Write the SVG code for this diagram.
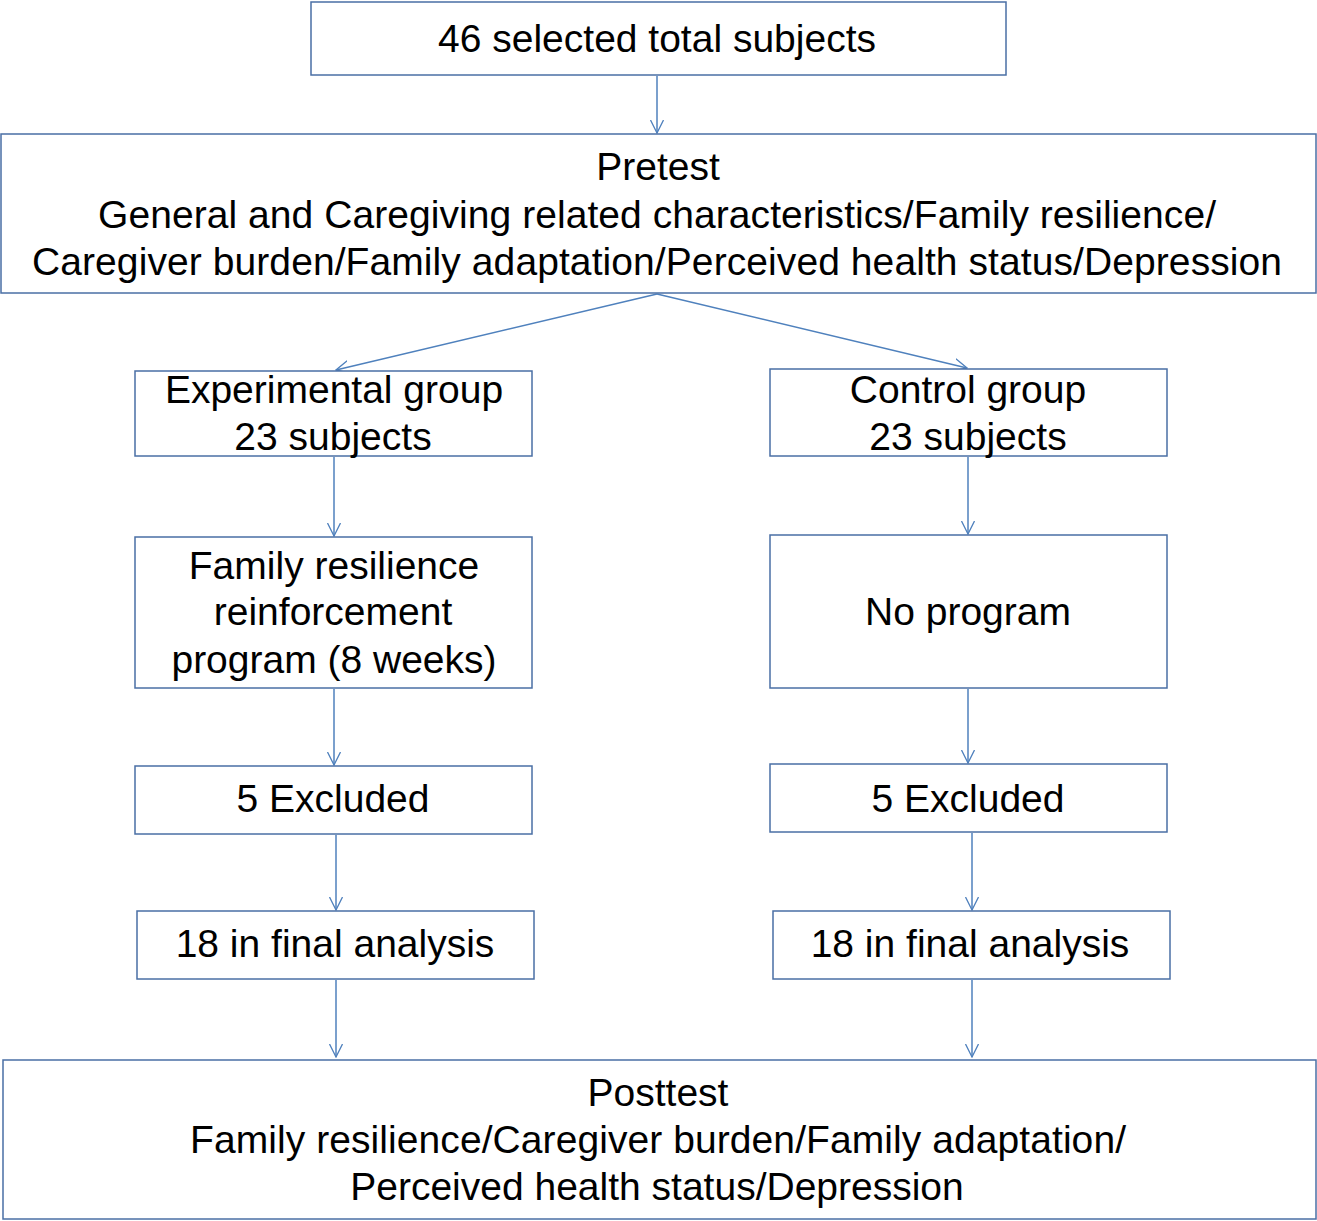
<svg xmlns="http://www.w3.org/2000/svg" width="1317" height="1221" viewBox="0 0 1317 1221">
<style>
  .box { fill: #ffffff; stroke: #4a6fa5; stroke-width: 1.5; }
  .t { font-family: "Liberation Sans", Arial, sans-serif; font-size: 39px; fill: #000000; text-anchor: middle; }
  .c { stroke: #4f81bd; stroke-width: 1.5; fill: none; }
</style>
<defs>
  <marker id="arr" viewBox="0 0 14 14" refX="13" refY="7" markerWidth="14" markerHeight="14" markerUnits="userSpaceOnUse" orient="auto">
    <path d="M0,0.5 L13,7 L0,13.5" fill="none" stroke="#4f81bd" stroke-width="1.3"/>
  </marker>
</defs>
<rect width="1317" height="1221" fill="#ffffff"/>

<g id="connectors">
  <line class="c" x1="657" y1="76" x2="657" y2="133" marker-end="url(#arr)"/>
  <line class="c" x1="657" y1="294" x2="336" y2="370" marker-end="url(#arr)"/>
  <line class="c" x1="657" y1="294" x2="967" y2="368" marker-end="url(#arr)"/>
  <line class="c" x1="334" y1="457" x2="334" y2="536" marker-end="url(#arr)"/>
  <line class="c" x1="968" y1="457" x2="968" y2="534" marker-end="url(#arr)"/>
  <line class="c" x1="334" y1="689" x2="334" y2="765" marker-end="url(#arr)"/>
  <line class="c" x1="968" y1="689" x2="968" y2="763" marker-end="url(#arr)"/>
  <line class="c" x1="336" y1="835" x2="336" y2="910" marker-end="url(#arr)"/>
  <line class="c" x1="972" y1="833" x2="972" y2="910" marker-end="url(#arr)"/>
  <line class="c" x1="336" y1="980" x2="336" y2="1057" marker-end="url(#arr)"/>
  <line class="c" x1="972" y1="980" x2="972" y2="1057" marker-end="url(#arr)"/>
</g>

<g id="n-total">
  <rect class="box" x="311" y="2" width="695" height="73"/>
  <text class="t" x="657" y="52">46 selected total subjects</text>
</g>

<g id="n-pretest">
  <rect class="box" x="1" y="134" width="1315" height="159"/>
  <text class="t" x="658" y="180">Pretest</text>
  <text class="t" x="657" y="228" textLength="1118" lengthAdjust="spacing">General and Caregiving related characteristics/Family resilience/</text>
  <text class="t" x="657" y="275" textLength="1250" lengthAdjust="spacing">Caregiver burden/Family adaptation/Perceived health status/Depression</text>
</g>

<g id="n-exp">
  <rect class="box" x="135" y="371" width="397" height="85"/>
  <text class="t" x="334" y="403">Experimental group</text>
  <text class="t" x="333" y="450">23 subjects</text>
</g>

<g id="n-ctrl">
  <rect class="box" x="770" y="369" width="397" height="87"/>
  <text class="t" x="968" y="403">Control group</text>
  <text class="t" x="968" y="450">23 subjects</text>
</g>

<g id="n-program">
  <rect class="box" x="135" y="537" width="397" height="151"/>
  <text class="t" x="334" y="579">Family resilience</text>
  <text class="t" x="333" y="625">reinforcement</text>
  <text class="t" x="334" y="673">program (8 weeks)</text>
</g>

<g id="n-noprogram">
  <rect class="box" x="770" y="535" width="397" height="153"/>
  <text class="t" x="968" y="625">No program</text>
</g>

<g id="n-excl-l">
  <rect class="box" x="135" y="766" width="397" height="68"/>
  <text class="t" x="333" y="812">5 Excluded</text>
</g>

<g id="n-excl-r">
  <rect class="box" x="770" y="764" width="397" height="68"/>
  <text class="t" x="968" y="812">5 Excluded</text>
</g>

<g id="n-final-l">
  <rect class="box" x="137" y="911" width="397" height="68"/>
  <text class="t" x="335" y="957">18 in final analysis</text>
</g>

<g id="n-final-r">
  <rect class="box" x="773" y="911" width="397" height="68"/>
  <text class="t" x="970" y="957">18 in final analysis</text>
</g>

<g id="n-posttest">
  <rect class="box" x="3" y="1060" width="1313" height="159"/>
  <text class="t" x="658" y="1106">Posttest</text>
  <text class="t" x="658" y="1153" textLength="936" lengthAdjust="spacing">Family resilience/Caregiver burden/Family adaptation/</text>
  <text class="t" x="657" y="1200">Perceived health status/Depression</text>
</g>
</svg>
